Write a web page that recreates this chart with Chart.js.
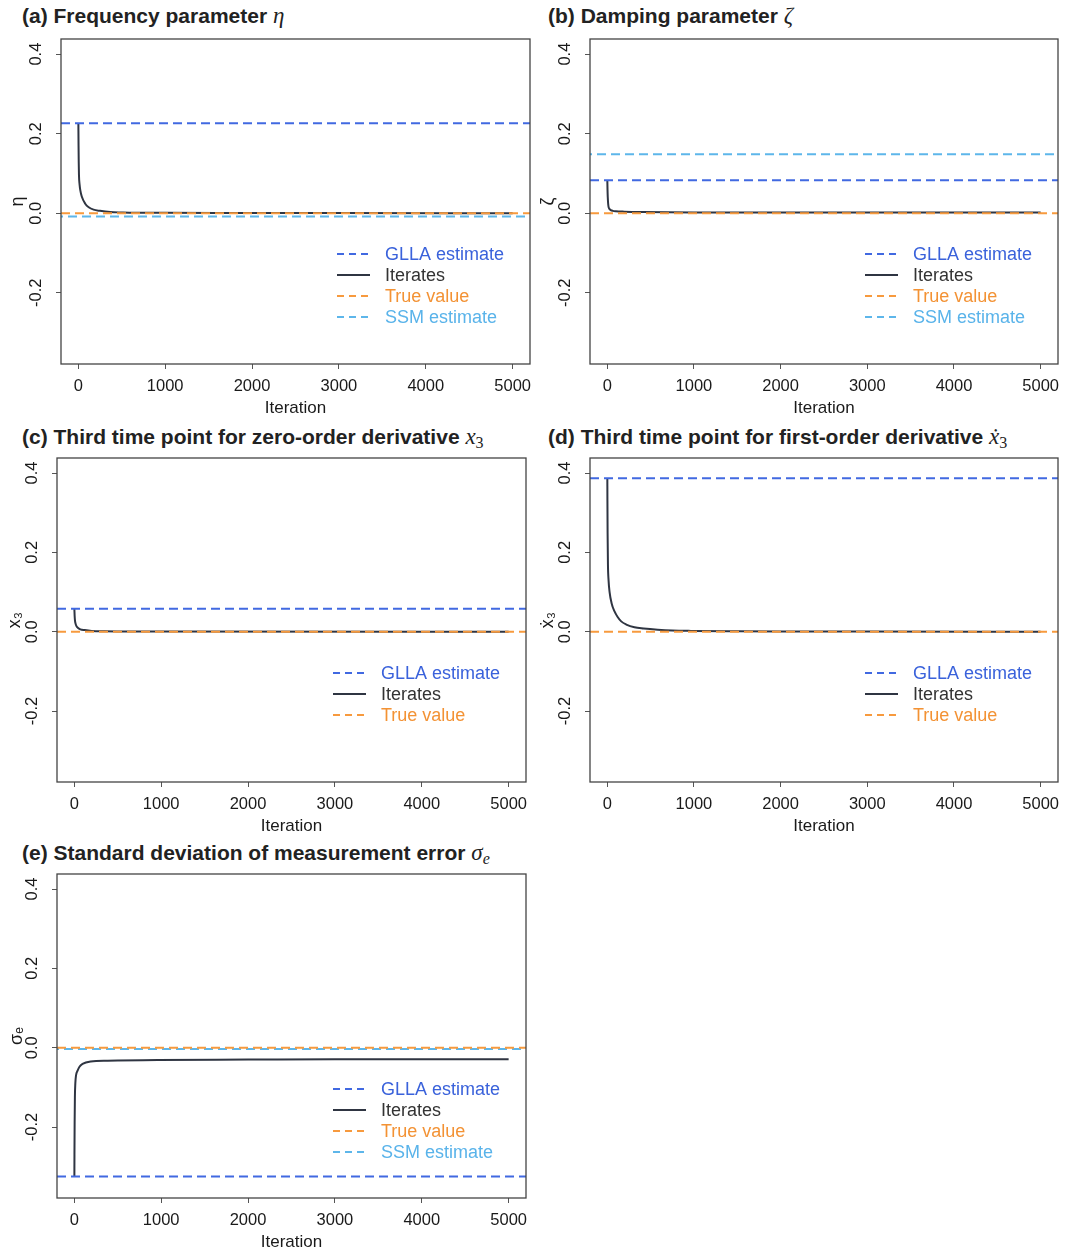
<!DOCTYPE html>
<html>
<head>
<meta charset="utf-8">
<script src="https://cdn.jsdelivr.net/npm/chart.js@4.4.1/dist/chart.umd.min.js"></script>
<style>
body{margin:0;background:#fff;width:1073px;height:1252px;position:relative;overflow:hidden;font-family:"Liberation Sans",Arial,sans-serif;}
.ttl{position:absolute;font-weight:bold;font-size:21px;line-height:22px;color:#222;white-space:nowrap;}
.ttl i{font-family:"Liberation Serif","DejaVu Serif",serif;font-style:italic;font-weight:normal;font-size:23px;}
.ttl sub{font-family:"Liberation Serif","DejaVu Serif",serif;font-weight:normal;font-size:16px;vertical-align:-4px;line-height:0;}
canvas{position:absolute;}
</style>
</head>
<body>
<div class="ttl" style="left:22px;top:5px">(a) Frequency parameter <i>η</i></div>
<div class="ttl" style="left:548px;top:5px">(b) Damping parameter <i>ζ</i></div>
<div class="ttl" style="left:22px;top:426px">(c) Third time point for zero-order derivative <i>x</i><sub>3</sub></div>
<div class="ttl" style="left:548px;top:426px">(d) Third time point for first-order derivative <i>ẋ</i><sub>3</sub></div>
<div class="ttl" style="left:22px;top:842px">(e) Standard deviation of measurement error <i>σ</i><sub><i style="font-size:16px">e</i></sub></div>

<canvas id="pa"></canvas>
<canvas id="pb"></canvas>
<canvas id="pc"></canvas>
<canvas id="pd"></canvas>
<canvas id="pe"></canvas>

<script>
// ============================
// DATA
// ============================
const xTicks = [0, 1000, 2000, 3000, 4000, 5000];
const yTicks = [-0.2, 0, 0.2, 0.4];
const xRange = [-199, 5200];
const yRange = [-0.379, 0.438];

const yTitles = ["η", "ζ", "x₃", "ẋ₃", "σₑ"];
const legendLabels = ["GLLA estimate", "Iterates", "True value", "SSM estimate"];

// horizontal reference values per panel (a..e)
const gllaEst = [0.226, 0.083, 0.058, 0.387, -0.325];
const trueVal = [0, 0, 0, 0, 0];
const ssmEst  = [-0.008, 0.148, null, null, -0.003];

// iterates
const iterA_x = [1, 3, 5, 8, 15, 23, 40, 80, 120, 176, 250, 368, 500, 750, 1000, 2000, 3000, 5000];
const iterA_y = [0.226, 0.17, 0.13, 0.095, 0.072, 0.058, 0.042, 0.024, 0.015, 0.009, 0.006, 0.003, 0.002, 0.001, 0.001, 0.0005, 0.0003, 0.0002];

const iterB_x = [1, 3, 6, 10, 15, 25, 40, 65, 100, 195, 400, 1000, 5000];
const iterB_y = [0.083, 0.06, 0.04, 0.025, 0.016, 0.011, 0.008, 0.006, 0.005, 0.004, 0.003, 0.002, 0.002];

const iterC_x = [1, 4, 8, 15, 25, 40, 70, 120, 200, 350, 600, 1000, 5000];
const iterC_y = [0.058, 0.04, 0.028, 0.02, 0.014, 0.01, 0.006, 0.004, 0.002, 0.001, 0.0005, 0.0003, 0.0001];

const iterD_x = [1, 2, 4, 8, 15, 27, 50, 84, 120, 161, 220, 314, 420, 582, 750, 966, 1500, 2000, 3000, 5000];
const iterD_y = [0.387, 0.33, 0.25, 0.17, 0.13, 0.10, 0.072, 0.051, 0.037, 0.026, 0.018, 0.011, 0.008, 0.005, 0.003, 0.002, 0.001, 0.0005, 0.0002, 0.0001];

const iterE_x = [1, 2, 4, 7, 12, 20, 38, 60, 95, 190, 385, 960, 2000, 3000, 5000];
const iterE_y = [-0.325, -0.27, -0.19, -0.125, -0.09, -0.07, -0.058, -0.048, -0.041, -0.035, -0.033, -0.031, -0.030, -0.029, -0.029];

const iterX = [iterA_x, iterB_x, iterC_x, iterD_x, iterE_x];
const iterY = [iterA_y, iterB_y, iterC_y, iterD_y, iterE_y];

// ============================
// STYLE / LAYOUT
// ============================
const COL = {
  glla: "#4169E1", gllaText: "#3A62DB",
  iter: "#2F3542", iterText: "#333333",
  tru: "#F79A3E", truText: "#F39234",
  ssm: "#5DB6EA", ssmText: "#59B3EA"
};
const DASH = [9, 5];

// plot boxes (page pixels); cx = canvas left, tx = y-title centre
const panels = [
  { id: "pa", cx: 0,   L: 61,  T: 39,  R: 530,  B: 364,  tx: 18 },
  { id: "pb", cx: 540, L: 590, T: 39,  R: 1058, B: 364,  tx: 548 },
  { id: "pc", cx: 0,   L: 57,  T: 458, R: 526,  B: 782,  tx: 15 },
  { id: "pd", cx: 540, L: 590, T: 458, R: 1058, B: 782,  tx: 548 },
  { id: "pe", cx: 0,   L: 57,  T: 874, R: 526,  B: 1198, tx: 17 }
];

Chart.defaults.font.family = '"Liberation Sans", Arial, sans-serif';
Chart.defaults.color = "#1a1a1a";

// ============================
// PLUGINS
// ============================
const boxPlugin = {
  id: "rbox",
  afterDraw(chart) {
    const { ctx, chartArea: a } = chart;
    ctx.save();
    ctx.strokeStyle = "#444";
    ctx.lineWidth = 1.3;
    ctx.strokeRect(a.left, a.top, a.right - a.left, a.bottom - a.top);

    // rotated y tick labels, R style
    const ys = chart.scales.y;
    ctx.fillStyle = "#1a1a1a";
    ctx.font = '16.5px "Liberation Sans", Arial, sans-serif';
    ctx.textAlign = "center";
    ctx.textBaseline = "middle";
    ys.ticks.forEach(t => {
      const py = ys.getPixelForValue(t.value);
      ctx.save();
      ctx.translate(a.left - 25, py);
      ctx.rotate(-Math.PI / 2);
      ctx.fillText(t.value.toFixed(1), 0, 0);
      ctx.restore();
    });

    // legend
    const lg = chart.options.plugins.rlegend;
    if (lg) {
      ctx.font = '18px "Liberation Sans", Arial, sans-serif';
      ctx.textAlign = "left";
      lg.items.forEach((it, i) => {
        const y = a.top + 215 + i * 21;
        ctx.beginPath();
        ctx.strokeStyle = it.color;
        ctx.lineWidth = it.dash ? 1.8 : 2;
        ctx.setLineDash(it.dash ? [7, 5] : []);
        ctx.moveTo(a.right - 193, y);
        ctx.lineTo(a.right - 160, y);
        ctx.stroke();
        ctx.setLineDash([]);
        ctx.fillStyle = it.textColor;
        ctx.fillText(it.label, a.right - 145, y + 1);
      });
    }
    ctx.restore();
  }
};

// ============================
// BUILD PANELS
// ============================
function hline(v, color, offset) {
  return {
    data: [{ x: xRange[0], y: v }, { x: xRange[1], y: v }],
    borderColor: color, borderWidth: 2, borderDash: DASH, borderDashOffset: offset || 0,
    pointRadius: 0, fill: false
  };
}

panels.forEach((p, i) => {
  const cv = document.getElementById(p.id);
  const w = p.R - p.cx + 10, h = p.B - p.T + 70;
  cv.width = w; cv.height = h;
  cv.style.left = p.cx + "px";
  cv.style.top = (p.T - 10) + "px";
  cv.style.width = w + "px"; cv.style.height = h + "px";
  const yw = p.L - p.cx;

  const datasets = [hline(trueVal[i], COL.tru)];
  if (ssmEst[i] !== null) datasets.push(hline(ssmEst[i], COL.ssm, 7));
  datasets.push(hline(gllaEst[i], COL.glla));
  datasets.push({
    data: iterX[i].map((x, k) => ({ x: x, y: iterY[i][k] })),
    borderColor: COL.iter, borderWidth: 2,
    pointRadius: 0, fill: false, cubicInterpolationMode: "monotone"
  });

  const items = [
    { label: legendLabels[0], color: COL.glla, textColor: COL.gllaText, dash: true },
    { label: legendLabels[1], color: COL.iter, textColor: COL.iterText, dash: false },
    { label: legendLabels[2], color: COL.tru, textColor: COL.truText, dash: true }
  ];
  if (ssmEst[i] !== null) items.push({ label: legendLabels[3], color: COL.ssm, textColor: COL.ssmText, dash: true });

  new Chart(cv, {
    type: "line",
    data: { datasets: datasets },
    options: {
      responsive: false,
      animation: false,
      layout: { padding: { top: 10, right: 10, left: 0, bottom: 0 } },
      plugins: {
        legend: { display: false },
        tooltip: { enabled: false },
        rlegend: { items: items }
      },
      scales: {
        x: {
          type: "linear", min: xRange[0], max: xRange[1],
          afterBuildTicks: s => { s.ticks = xTicks.map(v => ({ value: v })); },
          afterFit: s => { s.height = 60; },
          border: { display: false },
          grid: { drawOnChartArea: false, drawTicks: true, tickLength: 5, color: "#555", lineWidth: 1 },
          ticks: { font: { size: 16.5 }, color: "#1a1a1a", padding: 8, maxRotation: 0, callback: v => String(v) },
          title: { display: true, text: "Iteration", font: { size: 17 }, color: "#1a1a1a", padding: { top: 0, bottom: 5 } }
        },
        y: {
          type: "linear", min: yRange[0], max: yRange[1],
          afterBuildTicks: s => { s.ticks = yTicks.map(v => ({ value: v })); },
          afterFit: s => { s.width = yw; },
          border: { display: false },
          grid: { drawOnChartArea: false, drawTicks: true, tickLength: 5, color: "#555", lineWidth: 1 },
          ticks: { display: false },
          title: { display: true, text: yTitles[i], font: { size: 18 }, color: "#1a1a1a", padding: { top: p.tx - p.cx - 10.8, bottom: 0 } }
        }
      }
    },
    plugins: [boxPlugin]
  });
});
</script>
</body>
</html>
